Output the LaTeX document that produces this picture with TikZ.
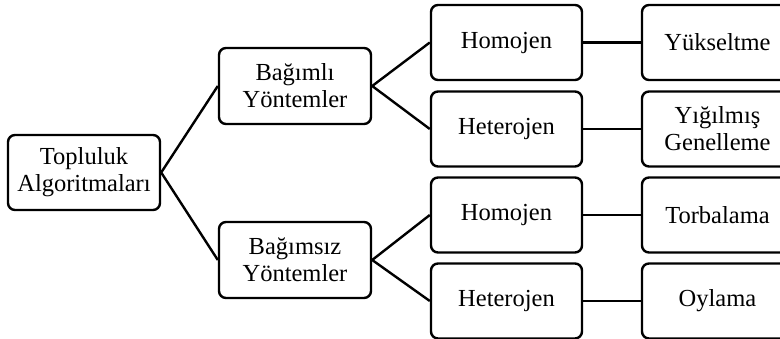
\documentclass[tikz,border=0pt]{standalone}
\usepackage{fontspec}
\setmainfont{Liberation Serif}
\begin{document}
\begin{tikzpicture}[x=1pt,y=-1pt,
  box/.style={draw, line width=2.4pt, rounded corners=7pt, align=center,
    inner sep=0pt, font=\fontsize{24.5}{27}\selectfont},
  c1/.style={box, minimum width=152pt, minimum height=75pt},
  c2/.style={box, minimum width=152pt, minimum height=76pt},
  c3/.style={box, minimum width=151pt, minimum height=75pt},
  c4/.style={box, minimum width=151pt, minimum height=75pt},
  link/.style={line width=2.4pt}]
\useasboundingbox (0,0) rectangle (780,339);
\clip (0,0) rectangle (780,339);
\node[c1] (root) at (84,172.5) {Topluluk\\Algoritmaları};
\node[c2] (dep) at (295,86) {Bağımlı\\Yöntemler};
\node[c2] (ind) at (295,260) {Bağımsız\\Yöntemler};
\node[c3] (h1) at (506.5,42.5) {Homojen};
\node[c3] (t1) at (506.5,129) {Heterojen};
\node[c3] (h2) at (506.5,215) {Homojen};
\node[c3] (t2) at (506.5,301) {Heterojen};
\node[c4] (boost) at (717.5,42.5) {Yükseltme};
\node[c4] (stack) at (717.5,129) {Yığılmış\\Genelleme};
\node[c4] (bag) at (717.5,215) {Torbalama};
\node[c4] (vote) at (717.5,301) {Oylama};
\draw[link] (root.east) -- (dep.west);
\draw[link] (root.east) -- (ind.west);
\draw[link] (dep.east) -- (h1.west);
\draw[link] (dep.east) -- (t1.west);
\draw[link] (ind.east) -- (h2.west);
\draw[link] (ind.east) -- (t2.west);
\draw[link] (h1.east) -- (boost.west);
\draw[link] (t1.east) -- (stack.west);
\draw[link] (h2.east) -- (bag.west);
\draw[link] (t2.east) -- (vote.west);
\end{tikzpicture}
\end{document}
